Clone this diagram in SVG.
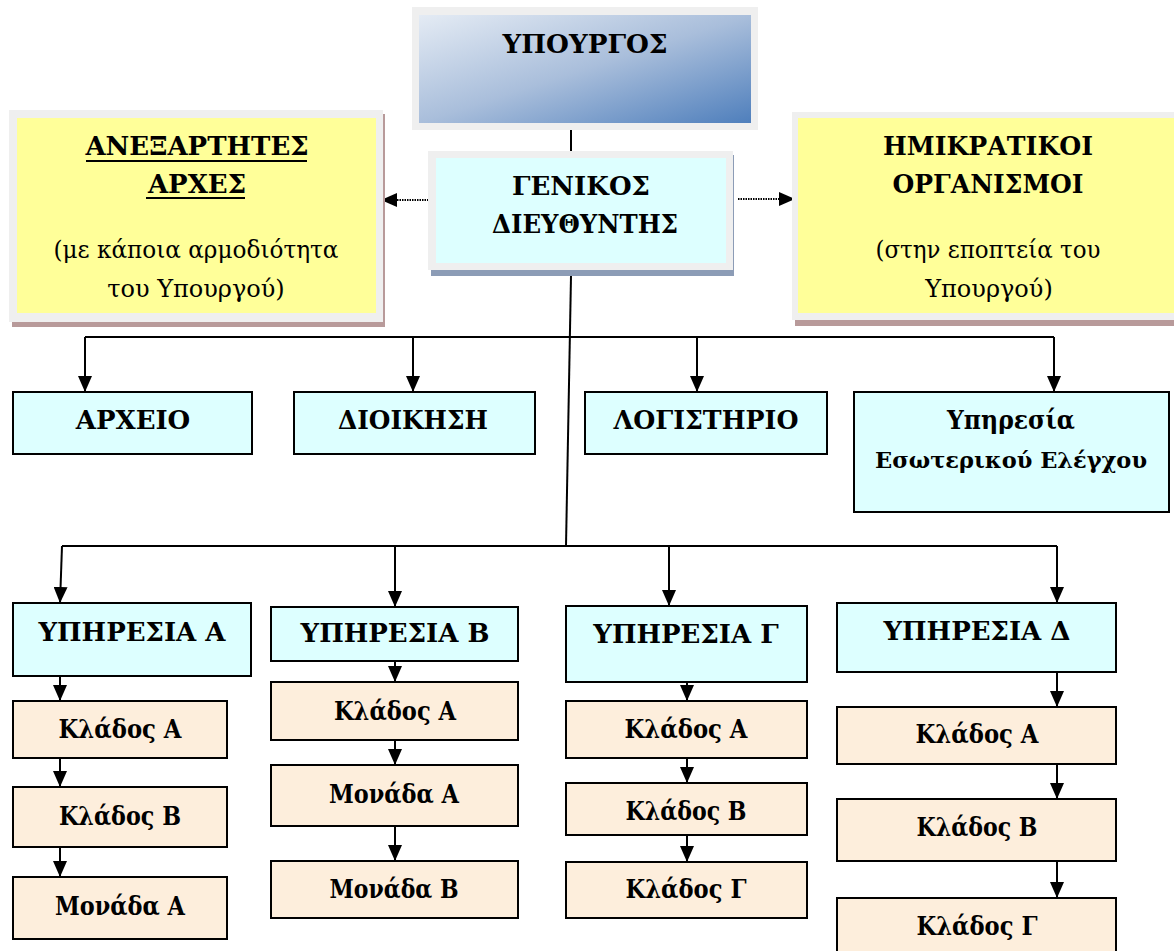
<svg xmlns="http://www.w3.org/2000/svg" width="1174" height="951" viewBox="0 0 1174 951">
<defs>
<linearGradient id="gMin" x1="0" y1="0" x2="1" y2="1">
<stop offset="0" stop-color="#e4ebf4"/>
<stop offset="0.5" stop-color="#a9bedb"/>
<stop offset="1" stop-color="#4f7fbc"/>
</linearGradient>
<marker id="ah" markerUnits="userSpaceOnUse" markerWidth="16" markerHeight="14" viewBox="0 0 16 14" refX="16" refY="7" orient="auto">
<path d="M0,0 L16,7 L0,14 Z" fill="#000"/>
</marker>
</defs>
<style>
text{fill:#000;text-anchor:middle;font-family:"DejaVu Serif","Liberation Serif",serif}
.b{font-weight:bold;font-size:26px}
.n{font-size:24px}
.cy{fill:#ddffff;stroke:#000;stroke-width:2}
.pe{fill:#fdeedc;stroke:#000;stroke-width:2}
.fr{fill:#efefef}
.ye{fill:#ffff99}
.c{stroke:#000;stroke-width:2;fill:none}
.d{stroke:#000;stroke-width:2;fill:none;stroke-dasharray:1.5 1;marker-end:url(#ah)}
.dn{stroke:#000;stroke-width:2;fill:none;marker-end:url(#ah)}
</style>
<rect width="1174" height="951" fill="#fff"/>

<g id="connectors">
<line class="c" x1="571" y1="130" x2="571" y2="152"/>
<line class="c" x1="571" y1="276" x2="566" y2="546"/>
<line class="d" x1="436" y1="200" x2="381" y2="200"/>
<line class="d" x1="738" y1="199" x2="795" y2="199"/>
<polyline class="c" points="85,337 1054,337"/>
<line class="dn" x1="85" y1="337" x2="85" y2="392"/>
<line class="dn" x1="413" y1="337" x2="413" y2="392"/>
<line class="dn" x1="697" y1="337" x2="697" y2="392"/>
<line class="dn" x1="1054" y1="337" x2="1054" y2="392"/>
<polyline class="c" points="62,546 1057,546"/>
<line class="dn" x1="62" y1="546" x2="60" y2="603"/>
<line class="dn" x1="395" y1="546" x2="395" y2="607"/>
<line class="dn" x1="669" y1="546" x2="669" y2="606"/>
<line class="dn" x1="1057" y1="546" x2="1057" y2="603"/>
<line class="dn" x1="60" y1="676" x2="60" y2="701"/>
<line class="dn" x1="60" y1="758" x2="60" y2="787"/>
<line class="dn" x1="60" y1="847" x2="60" y2="877"/>
<line class="dn" x1="395" y1="661" x2="395" y2="682"/>
<line class="dn" x1="395" y1="740" x2="395" y2="765"/>
<line class="dn" x1="395" y1="826" x2="395" y2="861"/>
<line class="dn" x1="687" y1="682" x2="687" y2="701"/>
<line class="dn" x1="687" y1="758" x2="687" y2="783"/>
<line class="dn" x1="687" y1="835" x2="687" y2="862"/>
<line class="dn" x1="1057" y1="672" x2="1057" y2="707"/>
<line class="dn" x1="1057" y1="764" x2="1057" y2="799"/>
<line class="dn" x1="1057" y1="861" x2="1057" y2="898"/>
</g>

<g id="minister">
<rect class="fr" x="412" y="7" width="346" height="123"/>
<rect x="419" y="15" width="332" height="108" fill="url(#gMin)"/>
<text class="b" x="585" y="53" textLength="165" lengthAdjust="spacingAndGlyphs">ΥΠΟΥΡΓΟΣ</text>
</g>

<g id="general-director">
<rect x="431" y="155" width="303" height="121" fill="#8c9cb6"/>
<rect class="fr" x="428" y="151" width="305" height="119"/>
<rect x="436" y="158" width="290" height="105" fill="#ddffff"/>
<text class="b" x="581" y="195">ΓΕΝΙΚΟΣ</text>
<text class="b" x="585" y="233" textLength="186" lengthAdjust="spacingAndGlyphs">ΔΙΕΥΘΥΝΤΗΣ</text>
</g>

<g id="independent-authorities">
<rect x="12" y="114" width="373" height="213" fill="#b89a9a"/>
<rect class="fr" x="9" y="110" width="374" height="212"/>
<rect class="ye" x="17" y="118" width="359" height="195"/>
<text class="b" x="197" y="155">ΑΝΕΞΑΡΤΗΤΕΣ</text>
<line x1="86" y1="161" x2="307" y2="161" stroke="#000" stroke-width="2"/>
<text class="b" x="197" y="193">ΑΡΧΕΣ</text>
<line x1="146" y1="198" x2="245" y2="198" stroke="#000" stroke-width="2"/>
<text class="n" x="196" y="258" textLength="285" lengthAdjust="spacingAndGlyphs">(με κάποια αρμοδιότητα</text>
<text class="n" x="196" y="297">του Υπουργού)</text>
</g>

<g id="semi-state">
<rect x="795" y="116" width="385" height="210" fill="#b89a9a"/>
<rect class="fr" x="792" y="112" width="390" height="208"/>
<rect class="ye" x="798" y="118" width="380" height="195"/>
<text class="b" x="988" y="155" textLength="210" lengthAdjust="spacingAndGlyphs">ΗΜΙΚΡΑΤΙΚΟΙ</text>
<text class="b" x="988" y="193" textLength="191" lengthAdjust="spacingAndGlyphs">ΟΡΓΑΝΙΣΜΟΙ</text>
<text class="n" x="988" y="258" textLength="225" lengthAdjust="spacingAndGlyphs">(στην εποπτεία του</text>
<text class="n" x="989" y="297">Υπουργού)</text>
</g>

<g id="archive"><rect class="cy" x="13" y="392" width="239" height="62"/><text class="b" x="133" y="429">ΑΡΧΕΙΟ</text></g>
<g id="administration"><rect class="cy" x="294" y="392" width="241" height="62"/><text class="b" x="413" y="429" textLength="150" lengthAdjust="spacingAndGlyphs">ΔΙΟΙΚΗΣΗ</text></g>
<g id="accounting"><rect class="cy" x="585" y="392" width="242" height="62"/><text class="b" x="706" y="429" textLength="185" lengthAdjust="spacingAndGlyphs">ΛΟΓΙΣΤΗΡΙΟ</text></g>
<g id="internal-audit"><rect class="cy" x="854" y="392" width="315" height="120"/><text class="b" x="1011" y="429" textLength="128" lengthAdjust="spacingAndGlyphs">Υπηρεσία</text><text class="b" x="1011" y="468" style="font-size:23px" textLength="272" lengthAdjust="spacingAndGlyphs">Εσωτερικού Ελέγχου</text></g>

<g id="service-a"><rect class="cy" x="13" y="603" width="238" height="73"/><text class="b" x="132" y="641">ΥΠΗΡΕΣΙΑ Α</text></g>
<g id="a-klados-a"><rect class="pe" x="13" y="701" width="214" height="57"/><text class="b" x="120" y="738" textLength="123" lengthAdjust="spacingAndGlyphs">Κλάδος Α</text></g>
<g id="a-klados-b"><rect class="pe" x="13" y="787" width="214" height="60"/><text class="b" x="120" y="825" textLength="122" lengthAdjust="spacingAndGlyphs">Κλάδος Β</text></g>
<g id="a-monada-a"><rect class="pe" x="13" y="877" width="214" height="62"/><text class="b" x="120" y="915" textLength="130" lengthAdjust="spacingAndGlyphs">Μονάδα Α</text></g>

<g id="service-b"><rect class="cy" x="271" y="607" width="247" height="54"/><text class="b" x="395" y="642">ΥΠΗΡΕΣΙΑ Β</text></g>
<g id="b-klados-a"><rect class="pe" x="271" y="682" width="247" height="58"/><text class="b" x="395" y="720" textLength="122" lengthAdjust="spacingAndGlyphs">Κλάδος Α</text></g>
<g id="b-monada-a"><rect class="pe" x="271" y="765" width="247" height="61"/><text class="b" x="394" y="803" textLength="130" lengthAdjust="spacingAndGlyphs">Μονάδα Α</text></g>
<g id="b-monada-b"><rect class="pe" x="271" y="861" width="247" height="57"/><text class="b" x="394" y="898" textLength="129" lengthAdjust="spacingAndGlyphs">Μονάδα Β</text></g>

<g id="service-c"><rect class="cy" x="566" y="606" width="241" height="76"/><text class="b" x="686" y="643">ΥΠΗΡΕΣΙΑ Γ</text></g>
<g id="c-klados-a"><rect class="pe" x="566" y="701" width="241" height="57"/><text class="b" x="686" y="738" textLength="123" lengthAdjust="spacingAndGlyphs">Κλάδος Α</text></g>
<g id="c-klados-b"><rect class="pe" x="566" y="783" width="241" height="52"/><text class="b" x="686" y="820" textLength="121" lengthAdjust="spacingAndGlyphs">Κλάδος Β</text></g>
<g id="c-klados-c"><rect class="pe" x="566" y="862" width="241" height="56"/><text class="b" x="686" y="898" textLength="121" lengthAdjust="spacingAndGlyphs">Κλάδος Γ</text></g>

<g id="service-d"><rect class="cy" x="837" y="603" width="279" height="69"/><text class="b" x="977" y="640">ΥΠΗΡΕΣΙΑ Δ</text></g>
<g id="d-klados-a"><rect class="pe" x="837" y="707" width="279" height="57"/><text class="b" x="977" y="743" textLength="123" lengthAdjust="spacingAndGlyphs">Κλάδος Α</text></g>
<g id="d-klados-b"><rect class="pe" x="837" y="799" width="279" height="62"/><text class="b" x="977" y="836" textLength="121" lengthAdjust="spacingAndGlyphs">Κλάδος Β</text></g>
<g id="d-klados-c"><rect class="pe" x="837" y="898" width="279" height="60"/><text class="b" x="977" y="935" textLength="121" lengthAdjust="spacingAndGlyphs">Κλάδος Γ</text></g>
</svg>
